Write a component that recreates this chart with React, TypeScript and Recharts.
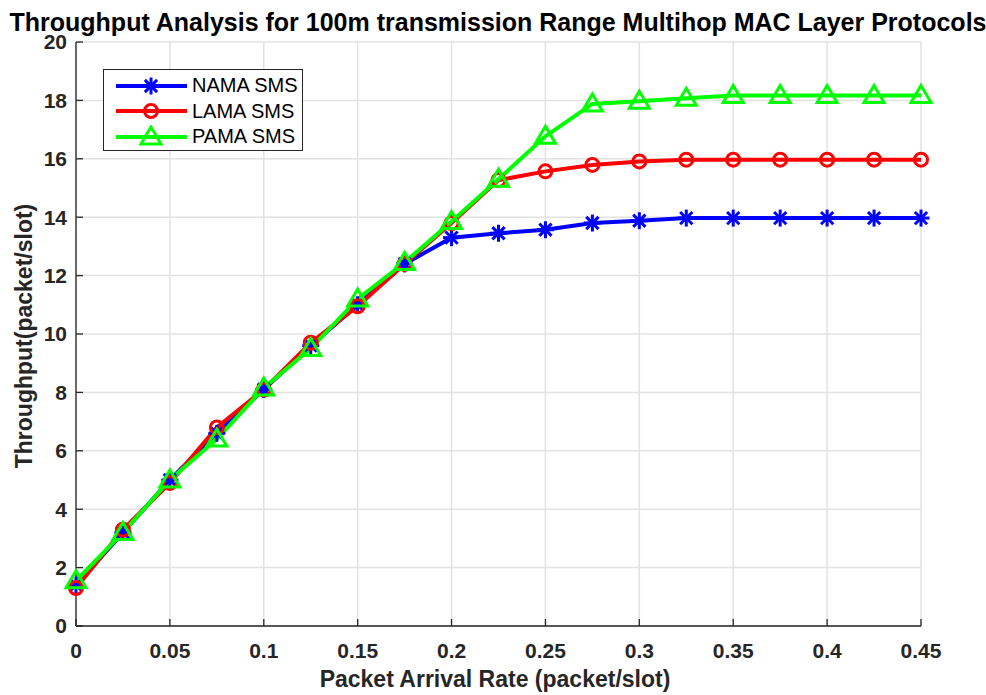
import { LineChart, Line, XAxis, YAxis, CartesianGrid, Legend } from "recharts";

const arrivalRate = [
  0, 0.025, 0.05, 0.075, 0.1, 0.125, 0.15, 0.175, 0.2, 0.225,
  0.25, 0.275, 0.3, 0.325, 0.35, 0.375, 0.4, 0.425, 0.45,
];
const namaSms = [
  1.4, 3.2, 5.0, 6.6, 8.1, 9.6, 11.0, 12.4, 13.3, 13.45,
  13.57, 13.8, 13.88, 13.97, 13.97, 13.97, 13.97, 13.97, 13.97,
];
const lamaSms = [
  1.3, 3.3, 4.9, 6.8, 8.1, 9.7, 10.95, 12.4, 13.8, 15.27,
  15.57, 15.79, 15.91, 15.97, 15.97, 15.97, 15.97, 15.97, 15.97,
];
const pamaSms = [
  1.55, 3.2, 5.0, 6.4, 8.15, 9.5, 11.2, 12.45, 13.85, 15.3,
  16.77, 17.88, 17.97, 18.07, 18.17, 18.17, 18.17, 18.17, 18.17,
];
const xTicks = [0, 0.05, 0.1, 0.15, 0.2, 0.25, 0.3, 0.35, 0.4, 0.45];
const yTicks = [0, 2, 4, 6, 8, 10, 12, 14, 16, 18, 20];

const data = arrivalRate.map((x, i) => ({
  x,
  nama: namaSms[i],
  lama: lamaSms[i],
  pama: pamaSms[i],
}));

const FONT = "Arial, 'Liberation Sans', Helvetica, sans-serif";
const TICK_COLOR = "#262626";

function Asterisk({ cx, cy, color }: { cx: number; cy: number; color: string }) {
  const r = 8.5;
  const d = r * 0.72;
  return (
    <g stroke={color} strokeWidth={3} strokeLinecap="butt">
      <line x1={cx - r} y1={cy} x2={cx + r} y2={cy} />
      <line x1={cx} y1={cy - r} x2={cx} y2={cy + r} />
      <line x1={cx - d} y1={cy - d} x2={cx + d} y2={cy + d} />
      <line x1={cx - d} y1={cy + d} x2={cx + d} y2={cy - d} />
    </g>
  );
}

function Ring({ cx, cy, color }: { cx: number; cy: number; color: string }) {
  return <circle cx={cx} cy={cy} r={6.5} fill="none" stroke={color} strokeWidth={3} />;
}

function Tri({ cx, cy, color }: { cx: number; cy: number; color: string }) {
  const pts = `${cx},${cy - 10} ${cx + 10},${cy + 7} ${cx - 10},${cy + 7}`;
  return <polygon points={pts} fill="none" stroke={color} strokeWidth={3} strokeLinejoin="miter" />;
}

const SERIES = [
  { key: "nama", name: "NAMA SMS", color: "#0000ff", Marker: Asterisk },
  { key: "lama", name: "LAMA SMS", color: "#ff0000", Marker: Ring },
  { key: "pama", name: "PAMA SMS", color: "#00ff00", Marker: Tri },
];

function LegendBox() {
  return (
    <div
      style={{
        border: "1.3px solid #262626",
        background: "#fff",
        width: 200,
        height: 82,
        boxSizing: "border-box",
        paddingTop: 3,
      }}
    >
      {SERIES.map((s) => (
        <div key={s.key} style={{ display: "flex", alignItems: "center", height: 25.5 }}>
          <svg width={88} height={24} style={{ display: "block" }}>
            <line x1={12} y1={12} x2={83} y2={12} stroke={s.color} strokeWidth={4} />
            <s.Marker cx={47} cy={12} color={s.color} />
          </svg>
          <span style={{ fontFamily: FONT, fontSize: 20, color: "#000", whiteSpace: "nowrap" }}>
            {s.name}
          </span>
        </div>
      ))}
    </div>
  );
}

const tickStyle = { fontFamily: FONT, fontSize: 21, fontWeight: 700, fill: TICK_COLOR };

export default function App() {
  return (
    <div style={{ width: 986, height: 695, background: "#fff" }}>
      <style>{"body{margin:0}"}</style>
      <LineChart
        width={986}
        height={695}
        data={data}
        margin={{ top: 42, right: 65, bottom: 9, left: 16 }}
      >
        <CartesianGrid stroke="#e2e2e2" strokeWidth={1.5} />
        <XAxis
          dataKey="x"
          type="number"
          domain={[0, 0.45]}
          ticks={xTicks}
          height={60}
          tickSize={-7}
          tickMargin={24}
          stroke={TICK_COLOR}
          strokeWidth={1.3}
          fontSize={21}
          fontWeight={700}
          fontFamily={FONT}
          tick={tickStyle}
          tickFormatter={(v: number) => String(v)}
        />
        <XAxis
          xAxisId="top"
          orientation="top"
          dataKey="x"
          type="number"
          domain={[0, 0.45]}
          ticks={xTicks}
          height={0}
          tickSize={-7}
          tick={false}
          stroke={TICK_COLOR}
          strokeWidth={1.3}
        />
        <YAxis
          type="number"
          domain={[0, 20]}
          ticks={yTicks}
          width={60}
          tickSize={-7}
          tickMargin={16}
          stroke={TICK_COLOR}
          strokeWidth={1.3}
          fontSize={21}
          fontWeight={700}
          fontFamily={FONT}
          tick={tickStyle}
        />
        <YAxis
          yAxisId="right"
          orientation="right"
          type="number"
          domain={[0, 20]}
          ticks={yTicks}
          width={0}
          tickSize={-7}
          tick={false}
          stroke={TICK_COLOR}
          strokeWidth={1.3}
        />
        {SERIES.map((s) => (
          <Line
            key={s.key}
            dataKey={s.key}
            name={s.name}
            stroke={s.color}
            strokeWidth={4}
            isAnimationActive={false}
            activeDot={false}
            dot={(p: any) => <s.Marker key={`${s.key}-${p.index}`} cx={p.cx} cy={p.cy} color={s.color} />}
          />
        ))}
        <Legend
          layout="vertical"
          align="center"
          verticalAlign="middle"
          content={() => <LegendBox />}
          wrapperStyle={{ left: 103, top: 69, width: 200, height: 82 }}
        />
        <text
          x={498}
          y={31}
          textAnchor="middle"
          fontFamily={FONT}
          fontSize={25}
          fontWeight={700}
          fill="#000"
        >
          Throughput Analysis for 100m transmission Range Multihop MAC Layer Protocols
        </text>
        <text
          x={495}
          y={687}
          textAnchor="middle"
          fontFamily={FONT}
          fontSize={23}
          fontWeight={700}
          fill={TICK_COLOR}
        >
          Packet Arrival Rate (packet/slot)
        </text>
        <text
          x={32}
          y={336}
          transform="rotate(-90 32 336)"
          textAnchor="middle"
          fontFamily={FONT}
          fontSize={23}
          fontWeight={700}
          fill={TICK_COLOR}
        >
          Throughput(packet/slot)
        </text>
      </LineChart>
    </div>
  );
}
